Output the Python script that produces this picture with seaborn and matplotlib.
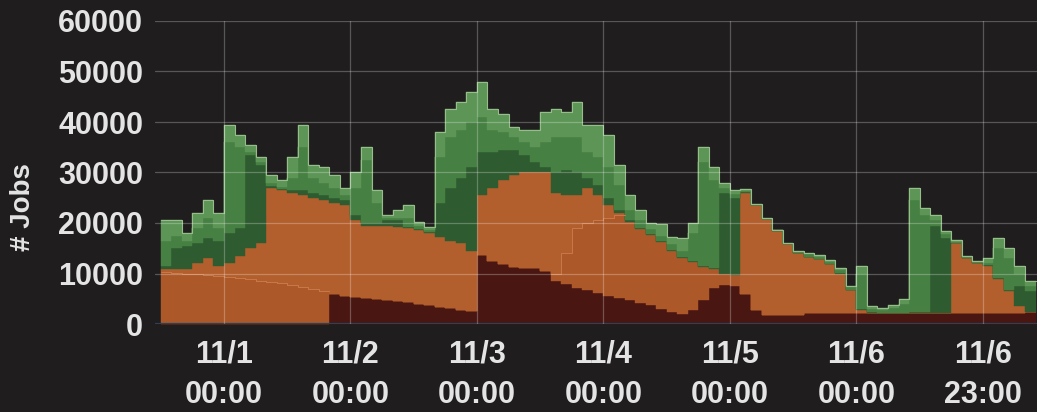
import numpy as np
import matplotlib
matplotlib.use("Agg")
import matplotlib.pyplot as plt
import seaborn as sns

# ---------------- data (jobs per 2-hour bin, hours relative to 11/1 00:00) ----------------
hours = list(range(-12, 156, 2))

brown = [0, 0, 0, 0, 0, 0, 0, 0, 0, 0, 0, 0, 0, 0, 0, 0,
         6000, 5600, 5300, 5100, 4900, 4700, 4500, 4300, 4000, 3700, 3400, 3100, 2800, 2500,
         13600, 12500, 11800, 11200, 11000, 11100, 10500, 8500, 8000, 7200, 6800, 6200, 5600, 5200,
         4700, 4200, 3700, 3000, 2300, 1900, 2800, 4700, 7200, 7700, 7500, 6000, 2800,
         1800, 1800, 1800, 1800,
         2200, 2200, 2200, 2200, 2200, 2200, 2200, 2200, 2200, 2200, 2200, 2200, 2200, 2200,
         2200, 2200, 2200, 2200, 2200, 2200, 2200, 2300, 2300]

orange_lo = [10200, 10100, 10000, 10000, 9800, 9500, 9300, 9100, 8900, 8600, 8400, 8100, 7800, 7400, 7000, 6500,
             0, 0, 0, 0, 0, 0, 0, 0, 0, 0, 0, 0, 0, 0, 0, 0, 0, 0, 0, 0, 0,
             1500, 6000, 11800, 13200, 14300, 15400, 16300,
             15500, 14600, 13900, 13300, 12100, 11100, 9400, 6600, 3600, 2300, 2300,
             0, 0, 0, 0, 0, 0, 0, 0, 0, 0, 0, 0, 0, 0, 0, 0, 0, 0, 0, 0, 0, 0, 0, 0, 0, 0, 0, 0, 0]

orange_hi = [600, 700, 800, 2000, 3200, 2000, 2700, 4400, 6100, 7400, 18600, 18400, 18200, 18100, 18000, 18000,
             18000, 17900, 15200, 14400, 14600, 14800, 14800, 14700, 14600, 14300, 13800, 13400, 13200, 12000,
             11900, 14500, 16700, 18300, 19000, 18900, 19500, 16000, 11500, 6500, 7000, 5000, 2500, 500,
             0, 0, 0, 0, 0, 0, 0, 0, 0, 0, 0,
             20000, 20700, 18900, 16700, 14000, 12200, 11100, 10600, 9600, 7800, 4500, 600,
             0, 0, 0, 0, 0, 0, 0, 0,
             13800, 10800, 9800, 9300, 6800, 4300, 1300, 0, 0]

green_dark = [700, 4200, 4700, 4000, 4000, 5000, 6000, 5500, 18500, 15500, 300, 200, 500, 1000, 1000, 1000,
              1000, 1000, 1000, 500, 500, 1000, 1200, 300, 200, 200, 6800, 10500, 13000, 16500,
              8500, 7000, 6000, 5000, 3500, 2000, 1000, 4000, 5000, 4500, 2000, 2000, 1500, 500,
              300, 200, 200, 200, 200, 200, 200, 200, 200, 16000, 15200,
              100, 0, 0, 0, 0, 0, 0, 100, 100, 100, 100, 100, 100, 0, 0, 0, 100, 100,
              17300, 14800, 100, 0, 0, 100, 200, 200, 4000, 4200, 4200]

green_mid = [5000, 2500, 1000, 3000, 4000, 2500, 18000, 16000, 500, 500, 700, 500, 2500, 8500, 3000, 2500,
             2000, 1000, 5500, 12500, 4000, 500, 500, 1700, 700, 500, 9000, 10000, 9500, 9000,
             7000, 4500, 3500, 2500, 2500, 3000, 5000, 7000, 6500, 7000, 5000, 5500, 6000, 5000,
             2000, 1500, 1000, 1000, 1200, 1300, 5600, 20500, 17500, 1000, 800,
             200, 100, 100, 100, 100, 200, 500, 400, 400, 600, 500, 7100, 700, 600, 1000, 1800, 22200, 19200,
             1000, 800, 200, 200, 200, 400, 5800, 6300, 2500, 1000, 1000]

green_light = [4000, 3000, 1500, 3000, 3500, 3000, 3500, 2500, 1500, 1000, 1500, 1300, 4000, 4500, 2500, 3000,
               2500, 1500, 3000, 2500, 2500, 500, 1500, 2500, 700, 600, 5000, 5500, 5500, 6000,
               7000, 4000, 3500, 2000, 2500, 3500, 6000, 5500, 5000, 7000, 5500, 6500, 6500, 4000,
               3000, 2000, 1200, 2300, 1400, 2500, 2000, 3000, 2500, 1000, 700,
               500, 200, 100, 100, 100, 200, 200, 300, 300, 300, 300, 1500, 500, 400, 600, 1000, 2500, 1500,
               1000, 700, 300, 200, 200, 1000, 2000, 2000, 1500, 1000, 1000]

tick_hours = [0, 24, 48, 72, 96, 120, 144]
tick_labels = ["11/1\n00:00", "11/2\n00:00", "11/3\n00:00", "11/4\n00:00",
               "11/5\n00:00", "11/6\n00:00", "11/6\n23:00"]
y_ticks = [0, 10000, 20000, 30000, 40000, 50000, 60000]

# ---------------- style ----------------
bg = "#1f1d1e"
txt = "#e4e4e4"
sns.set_theme(style="dark", rc={"axes.facecolor": bg, "figure.facecolor": bg,
                                "savefig.facecolor": bg})
plt.rcParams["font.family"] = ["Liberation Sans", "DejaVu Sans"]

layers = [brown, orange_lo, orange_hi, green_dark, green_mid, green_light]
colors = ["#4a1612", "#ad5829", "#b35e2d", "#2f5b30", "#478043", "#5c9556"]

fig = plt.figure(figsize=(10.37, 4.12), dpi=100)
ax = fig.add_axes([155 / 1037, 88 / 412, 882 / 1037, 303 / 412])

x = np.array(hours, dtype=float)
lower = np.zeros(len(x))
tops = []
for vals, c in zip(layers, colors):
    upper = lower + np.array(vals, dtype=float)
    ax.fill_between(x, lower, upper, step="post", facecolor=c, edgecolor=c,
                    linewidth=0.3, zorder=1)
    tops.append(upper)
    lower = upper

# faint boundary between the two orange series
lo_top = tops[1].copy()
mask = (np.array(orange_lo) == 0) | (np.array(orange_hi) == 0)
lo_top[mask] = np.nan
ax.plot(x, lo_top, drawstyle="steps-post", color="#c9794a", lw=0.7, zorder=1.5)

# light outline on the top of the stack
sns.lineplot(x=x, y=tops[-1], ax=ax, drawstyle="steps-post", color="#98bc8c",
             lw=0.8, zorder=1.6, estimator=None)

ax.axhline(0, color="#2b3b4f", lw=1.6, zorder=1.2)

ax.set_xlim(-13.09, 154.27)
ax.set_ylim(0, 60000)
ax.set_yticks(y_ticks)
ax.set_yticklabels([str(v) for v in y_ticks])
ax.set_xticks(tick_hours)
ax.set_xticklabels(tick_labels, linespacing=1.42)

ax.set_axisbelow(False)
ax.grid(True, color="#ffffff", alpha=0.26, lw=0.9)
for s in ax.spines.values():
    s.set_visible(False)

ax.tick_params(axis="y", length=0, pad=8.6, labelsize=22, labelcolor=txt)
ax.tick_params(axis="x", length=0, pad=11.5, labelsize=22, labelcolor=txt)
for lab in ax.get_xticklabels() + ax.get_yticklabels():
    lab.set_fontweight("bold")

ax.set_ylabel("# Jobs", fontsize=20, fontweight="bold", color=txt, va="center")
ax.yaxis.set_label_coords(-0.1497, 0.386)
ax.set_xlabel("")

fig.savefig("out.png", dpi=100, facecolor=bg)
